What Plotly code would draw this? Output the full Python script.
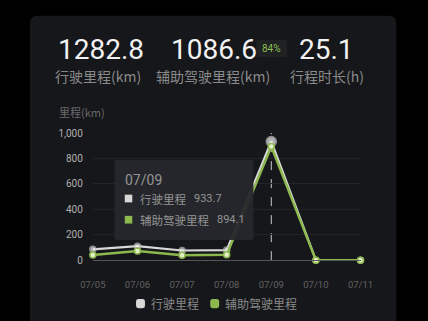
import plotly.graph_objects as go

W, H = 428, 321
dates = ["07/05", "07/06", "07/07", "07/08", "07/09", "07/10", "07/11"]
drive_km = [85, 110, 76, 79, 933.7, 0, 0]
assist_km = [40, 72, 38, 42.5, 894.1, 0, 0]
y_ticks = [0, 200, 400, 600, 800, 1000]
series_names = ["行驶里程", "辅助驾驶里程"]
summary_values = ["1282.8", "1086.6", "25.1"]
summary_labels = ["行驶里程(km)", "辅助驾驶里程(km)", "行程时长(h)"]
assist_pct = "84%"
tip_date = "07/09"

WHITE = "#d8d8d8"
GREEN = "#8db84e"
CARD = "#16171a"
CJK = "Noto Sans CJK SC"


def px(x):
    return x / W


def py(y):
    return 1 - y / H


def rrect(x0, y0, x1, y1, r, fill, layer="above"):
    p = (f"M {px(x0 + r)} {py(y0)} L {px(x1 - r)} {py(y0)} Q {px(x1)} {py(y0)} {px(x1)} {py(y0 + r)} "
         f"L {px(x1)} {py(y1 - r)} Q {px(x1)} {py(y1)} {px(x1 - r)} {py(y1)} "
         f"L {px(x0 + r)} {py(y1)} Q {px(x0)} {py(y1)} {px(x0)} {py(y1 - r)} "
         f"L {px(x0)} {py(y0 + r)} Q {px(x0)} {py(y0)} {px(x0 + r)} {py(y0)} Z")
    return dict(type="path", xref="paper", yref="paper", layer=layer, path=p,
                fillcolor=fill, line=dict(width=0))


fig = go.Figure()
fig.add_trace(go.Scatter(
    x=dates, y=drive_km, mode="lines+markers", showlegend=False,
    line=dict(color=WHITE, width=2.2), cliponaxis=False,
    marker=dict(size=[6, 6, 6, 6, 10, 6, 6], color="#f2f2f2",
                line=dict(color="#bdbdbd", width=1.5)),
    hoverinfo="skip"))
fig.add_trace(go.Scatter(
    x=dates, y=assist_km, mode="lines+markers", showlegend=False,
    line=dict(color=GREEN, width=2.4), cliponaxis=False,
    marker=dict(size=6, color="#e3efc8", line=dict(color=GREEN, width=1.5)),
    hoverinfo="skip"))

shapes = [
    rrect(18, 10, 408, 340, 8, CARD, layer="below"),
    rrect(259, 35, 292, 53, 2, "#1f2122", layer="below"),
    dict(type="line", xref="x", yref="y", x0=tip_date, x1=tip_date, y0=0, y1=1010,
         line=dict(color="#c8c8c8", width=1, dash="dash"), layer="below"),
    rrect(108, 160, 256, 243, 3, "rgba(38,40,44,0.96)"),
    dict(type="rect", xref="paper", yref="paper", layer="above",
         x0=px(119), x1=px(127), y0=py(196), y1=py(204),
         fillcolor=WHITE, line=dict(width=0)),
    dict(type="rect", xref="paper", yref="paper", layer="above",
         x0=px(119), x1=px(127), y0=py(218), y1=py(226),
         fillcolor=GREEN, line=dict(width=0)),
    # legend symbols
    rrect(131, 304.5, 140.5, 314, 2.5, WHITE),
    rrect(210, 304.5, 219.5, 314, 2.5, GREEN),
]


def A(x, y, text, size, color, family=CJK, xanchor="center"):
    return dict(x=px(x), y=py(y), text=text, showarrow=False, xref="paper", yref="paper",
                xanchor=xanchor, yanchor="middle",
                font=dict(family=family, size=size, color=color))


ann = []
num_x = [93.5, 214, 334]
lab_x = [91, 213, 334]
for v, lx, nx, lb in zip(summary_values, lab_x, num_x, summary_labels):
    ann.append(A(nx, 45, v, 28, "#f2f2f2", family="Liberation Sans Narrow, Roboto"))
    ann.append(A(lx, 73, lb, 14, "#8a8a8a"))
ann.append(A(275.5, 44, assist_pct, 10, "#8fbf4f", family="Roboto"))
ann.append(A(73, 110, "里程(km)", 11, "#6a6a6a"))
ann.append(A(117, 181, tip_date, 14, "#949494", family="Roboto", xanchor="left"))
ann.append(A(133, 200, series_names[0], 11.5, "#949494", xanchor="left"))
ann.append(A(191, 200, f"{drive_km[4]}", 11, "#949494", family="Roboto", xanchor="left"))
ann.append(A(133, 222, series_names[1], 11.5, "#949494", xanchor="left"))
ann.append(A(215, 222, f"{assist_km[4]}", 11, "#949494", family="Roboto", xanchor="left"))
ann.append(A(145, 309, series_names[0], 12, "#8a8a8a", xanchor="left"))
ann.append(A(224, 309, series_names[1], 12, "#8a8a8a", xanchor="left"))

fig.update_layout(
    width=W, height=H, margin=dict(l=0, r=0, t=0, b=0),
    paper_bgcolor="#000000", plot_bgcolor="rgba(0,0,0,0)",
    shapes=shapes, annotations=ann, showlegend=False,
    xaxis=dict(domain=[px(85), px(370)], range=[0, 6], type="category",
               showgrid=False, zeroline=False, showline=True, linecolor="#555555", linewidth=1,
               tickfont=dict(family="Roboto", size=9.5, color="#626262"),
               ticks="", ticklabelstandoff=15, fixedrange=True),
    yaxis=dict(domain=[py(264), py(132)], range=[0, 1000],
               tickvals=y_ticks, tickformat=",", showgrid=True, gridcolor="#222428", gridwidth=1,
               zeroline=False, showline=False,
               tickfont=dict(family="Roboto", size=10, color="#b0b0b0"),
               ticks="", ticklabelstandoff=9, fixedrange=True),
)
fig.write_html("out.html", config={"displayModeBar": False},
               post_script="document.body.style.margin='0';document.body.style.background='#000';")
